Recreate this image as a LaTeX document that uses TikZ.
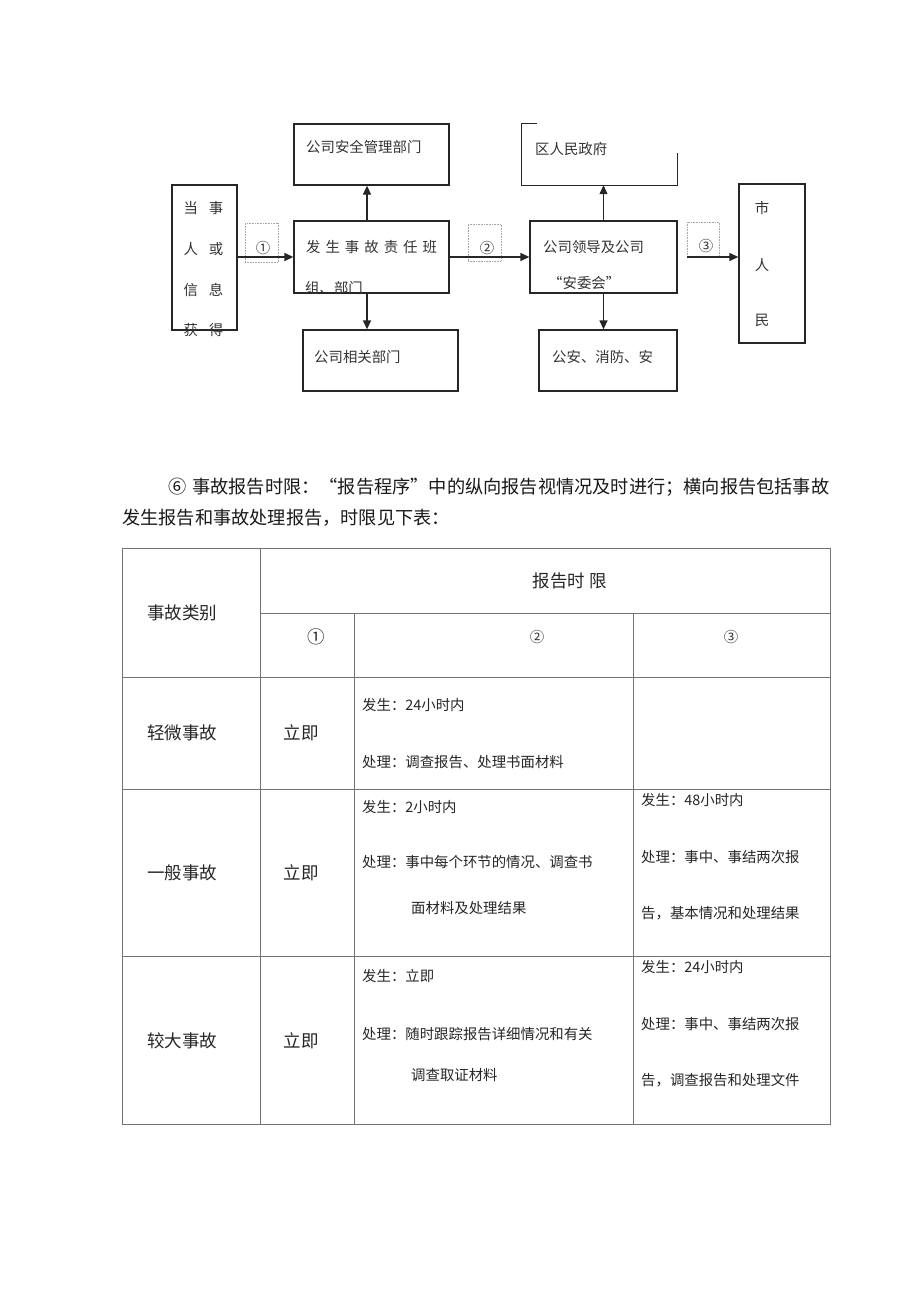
\documentclass[tikz,border=0pt]{standalone}
\usepackage{fontspec}
\setmainfont{Noto Sans CJK SC}
\usetikzlibrary{arrows.meta}
\newcommand\fgap{\hspace{5pt}}
\begin{document}
\begin{tikzpicture}[x=1pt,y=-1pt,
  box/.style={draw=black!85,line width=1.3pt,inner sep=0pt},
  lab/.style={draw=black!35,line width=0.6pt,densely dotted,inner sep=0pt},
  arr/.style={line width=1.3pt,draw=black!85,-{Triangle[length=9pt,width=8pt]}},
  ft/.style={font=\fontsize{14.4}{16}\selectfont,inner sep=0pt,text=black!80},
  tt/.style={font=\fontsize{17.5}{20}\selectfont,inner sep=0pt,text=black!85},
  ct/.style={font=\fontsize{14.4}{16}\selectfont,inner sep=0pt,text=black!85,anchor=west},
  pt/.style={font=\fontsize{18.2}{21}\selectfont,inner sep=0pt,text=black!90,anchor=west},
  tl/.style={draw=black!55,line width=0.9pt}
]
\useasboundingbox[fill=white] (0,0) rectangle (920,1303);

% ---------- flowchart boxes ----------
\node[box,minimum width=65pt,minimum height=145pt] (src) at (204.5,257.5) {};
\node[box,minimum width=155pt,minimum height=61pt] (safety) at (371.5,154.5) {};
\node[box,minimum width=155pt,minimum height=72pt] (team) at (371.5,257) {};
\node[box,minimum width=155pt,minimum height=61pt] (rel) at (380.5,360.5) {};
\node[inner sep=0pt,minimum width=155pt,minimum height=61pt] (gov) at (599.5,154.5) {};
\node[box,minimum width=147pt,minimum height=72pt] (lead) at (603.5,257) {};
\node[box,minimum width=138pt,minimum height=61pt] (police) at (608,360.5) {};
\node[box,minimum width=66pt,minimum height=159pt] (city) at (772,263.5) {};

% open border of the district government box
\draw[line width=1.3pt,black!85] ([xshift=15pt]gov.north west) -- (gov.north west) -- (gov.south west) -- (gov.south east) -- ([yshift=-29pt]gov.north east);

% label boxes
\node[lab,minimum width=33pt,minimum height=39pt] (l1) at (261.5,243) {};
\node[lab,minimum width=33pt,minimum height=37pt] (l2) at (484.5,242.5) {};
\node[lab,minimum width=32pt,minimum height=35pt] (l3) at (703,239.5) {};

% texts in boxes
\node[ft] (s1) at (203.5,208) {当\hspace{11pt}事};
\node[ft] (s2) at (203.5,249) {人\hspace{11pt}或};
\node[ft] (s3) at (203.5,290) {信\hspace{11pt}息};
\node[ft] (s4) at (203.5,330) {获\hspace{11pt}得};
\node[ft,anchor=west] (t1) at (306,147) {公司安全管理部门};
\node[ft,anchor=west] (t2) at (306,247) {发\fgap 生\fgap 事\fgap 故\fgap 责\fgap 任\fgap 班};
\node[ft,anchor=west] (t3) at (305,288) {组、部门};
\node[ft,anchor=west] (t4) at (314,357) {公司相关部门};
\node[ft,anchor=west] (t5) at (535,149) {区人民政府};
\node[ft,anchor=west] (t6) at (543,247) {公司领导及公司};
\node[ft,anchor=west] (t7) at (548,283) {“安委会”};
\node[ft,anchor=west] (t8) at (552,357) {公安、消防、安};
\node[ft] (c1) at (762,208) {市};
\node[ft] (c2) at (762,265) {人};
\node[ft] (c3) at (762,320) {民};
\node[ft] (n1) at (263,248) {①};
\node[ft] (n2) at (487,248) {②};
\node[ft] (n3) at (706,246) {③};

% connectors
\draw[arr] (src.east |- 0,257) -- (team.west |- 0,257);
\draw[line width=1.3pt,black!85] (team.east) -- (l2.south west |- 0,257);
\draw[arr] (l2.south west |- 0,257) -- (lead.west);
\coordinate (a3) at (687,257);
\draw[arr] (a3) -- (a3 -| city.west);
\draw[arr] ([xshift=-4.5pt]team.north) -- ([xshift=-4.5pt]team.north |- safety.south);
\draw[arr] ([xshift=-4.5pt]team.south) -- ([xshift=-4.5pt]team.south |- rel.north);
\draw[arr] (lead.north) -- (lead.north |- gov.south);
\draw[arr] (lead.south) -- (lead.south |- police.north);

% ---------- paragraph ----------
\node[pt] (p1) at (168,487) {⑥\hspace{6pt}事故报告时限：“报告程序”中的纵向报告视情况及时进行；横向报告包括事故};
\node[pt] (p2) at (122,518) {发生报告和事故处理报告，时限见下表：};

% ---------- table ----------
\draw[tl] (122,548) rectangle (830,1124);
\draw[tl] (260,548) -- (260,1124);
\draw[tl] (354,613) -- (354,1124);
\draw[tl] (633,613) -- (633,1124);
\draw[tl] (260,613) -- (830,613);
\draw[tl] (122,677) -- (830,677);
\draw[tl] (122,789) -- (830,789);
\draw[tl] (122,956) -- (830,956);

\node[tt] (h1) at (182,613) {事故类别};
\node[tt] (h2) at (570,581) {报告时\hspace{5pt}限};
\node[tt] (h3) at (316,637) {①};
\node[ft] (h4) at (537,637) {②};
\node[ft] (h5) at (731,637) {③};

\node[tt] (r1) at (182,733) {轻微事故};
\node[tt] (r1b) at (301,733) {立即};
\node[ct] (r1c) at (362,705) {发生：24小时内};
\node[ct] (r1d) at (362,762) {处理：调查报告、处理书面材料};

\node[tt] (r2) at (182,873) {一般事故};
\node[tt] (r2b) at (301,873) {立即};
\node[ct] (r2c) at (362,807) {发生：2小时内};
\node[ct] (r2d) at (362,862) {处理：事中每个环节的情况、调查书};
\node[ct] (r2e) at (411,908) {面材料及处理结果};
\node[ct] (r2f) at (641,800) {发生：48小时内};
\node[ct] (r2g) at (641,857) {处理：事中、事结两次报};
\node[ct] (r2h) at (641,913) {告，基本情况和处理结果};

\node[tt] (r3) at (182,1041) {较大事故};
\node[tt] (r3b) at (301,1041) {立即};
\node[ct] (r3c) at (362,976) {发生：立即};
\node[ct] (r3d) at (362,1034) {处理：随时跟踪报告详细情况和有关};
\node[ct] (r3e) at (411,1075) {调查取证材料};
\node[ct] (r3f) at (641,967) {发生：24小时内};
\node[ct] (r3g) at (641,1024) {处理：事中、事结两次报};
\node[ct] (r3h) at (641,1080) {告，调查报告和处理文件};
\end{tikzpicture}
\end{document}
